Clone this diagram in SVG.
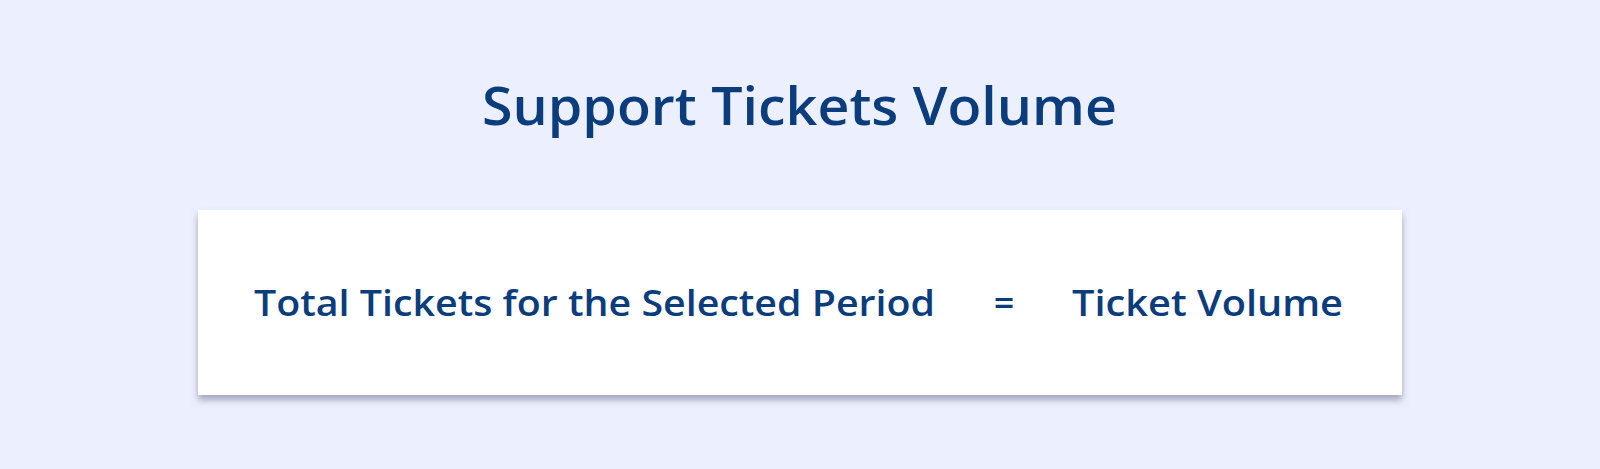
<svg xmlns="http://www.w3.org/2000/svg" width="1600" height="469" viewBox="0 0 1600 469">
  <defs>
    <filter id="shadow" x="-5%" y="-10%" width="110%" height="130%">
      <feDropShadow dx="0" dy="5" stdDeviation="3.5" flood-color="#6f7590" flood-opacity="0.6"/>
    </filter>
    <style>
      .title { font-family: "Open Sans", "Liberation Sans", sans-serif; font-weight: 600; font-size: 52px; fill: #0b3d7c; }
      .label { font-family: "Open Sans", "Liberation Sans", sans-serif; font-weight: 600; font-size: 36px; fill: #0b3d7c; }
    </style>
  </defs>
  <rect x="0" y="0" width="1600" height="469" fill="#eceffd"/>
  <g id="title">
    <text class="title" x="482" y="125" textLength="635" lengthAdjust="spacingAndGlyphs">Support Tickets Volume</text>
  </g>
  <g id="formula-box">
    <rect x="198" y="210" width="1204" height="185" fill="#ffffff" filter="url(#shadow)"/>
  </g>
  <g id="lhs">
    <text class="label" x="254" y="316" textLength="681" lengthAdjust="spacingAndGlyphs">Total Tickets for the Selected Period</text>
  </g>
  <g id="equals">
    <text class="label" x="1004" y="316" text-anchor="middle">=</text>
  </g>
  <g id="rhs">
    <text class="label" x="1072" y="316" textLength="271" lengthAdjust="spacingAndGlyphs">Ticket Volume</text>
  </g>
  <g id="connectors"/>
</svg>
